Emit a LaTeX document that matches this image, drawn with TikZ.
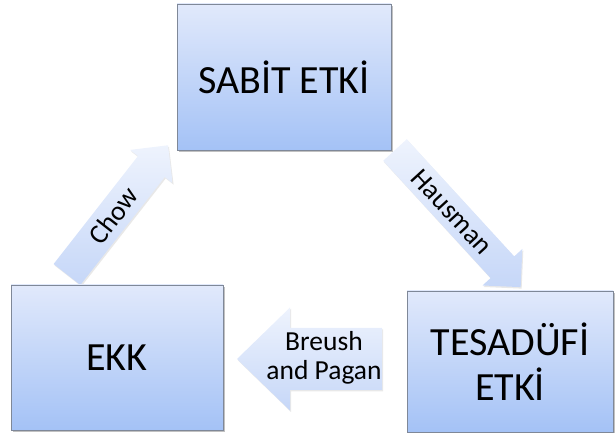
\documentclass[tikz,border=0pt]{standalone}
\usepackage{fontspec}
\setmainfont{Carlito}
\usetikzlibrary{calc,shadows}
\definecolor{boxtop}{HTML}{E1E9FB}
\definecolor{boxbot}{HTML}{A4C2F6}
\definecolor{boxline}{HTML}{7F8898}
\definecolor{arrtop}{HTML}{EEF3FD}
\definecolor{arrbot}{HTML}{C6D7F8}
\begin{document}
\begin{tikzpicture}[x=1pt,y=1pt,
  boxstyle/.style={draw=boxline, line width=0.8pt, top color=boxtop, bottom color=boxbot,
    inner sep=0pt, align=center, font=\fontsize{40}{45}\selectfont,
    drop shadow={shadow xshift=1.5pt, shadow yshift=-2pt, opacity=0.35, fill=black!70}},
  blockarrow/.style={top color=arrtop, bottom color=arrbot, draw=none,
    drop shadow={shadow xshift=1pt, shadow yshift=-1.5pt, opacity=0.15, fill=black!60}},
  arrowlabel/.style={font=\fontsize{27.5}{29}\selectfont, inner sep=0pt, align=center}]
\useasboundingbox (0,0) rectangle (616,433);
% block arrows
\coordinate (chowT) at (67,158.5);
\path[blockarrow] ($(chowT)+(142:17)$) -- ($(chowT)+(52:137)+(142:17)$)
  -- ($(chowT)+(52:137)+(142:27)$) -- ($(chowT)+(52:164)$)
  -- ($(chowT)+(52:137)+(-38:27)$) -- ($(chowT)+(52:137)+(-38:17)$)
  -- ($(chowT)+(-38:17)$) -- cycle;
\node[arrowlabel, rotate=52] (chow) at ($(chowT)+(52:75)$) {Chow};

\coordinate (hausT) at (395,283);
\path[blockarrow] ($(hausT)+(42.5:16)$) -- ($(hausT)+(-47.5:159)+(42.5:16)$)
  -- ($(hausT)+(-47.5:159)+(42.5:27)$) -- ($(hausT)+(-47.5:186)$)
  -- ($(hausT)+(-47.5:159)+(-137.5:27)$) -- ($(hausT)+(-47.5:159)+(-137.5:16)$)
  -- ($(hausT)+(-137.5:16)$) -- cycle;
\node[arrowlabel, rotate=-47.5] (haus) at ($(hausT)+(-47.5:84)$) {Hausman};

\coordinate (bpT) at (382,74);
\path[blockarrow] (382,105) -- (290,105) -- (290,125.5) -- (237,74)
  -- (290,22.5) -- (290,43) -- (382,43) -- cycle;
\node[arrowlabel] (bp) at (324,75) {Breush\\and Pagan};

% boxes
\node[boxstyle, minimum width=214, minimum height=146] (sabit) at (284,356) {SABİT ETKİ};
\node[boxstyle, minimum width=212, minimum height=145] (ekk) at (117,75.5) {EKK};
\node[boxstyle, minimum width=206, minimum height=141] (tes) at (510,71.5) {TESADÜFİ\\ETKİ};
\end{tikzpicture}
\end{document}
